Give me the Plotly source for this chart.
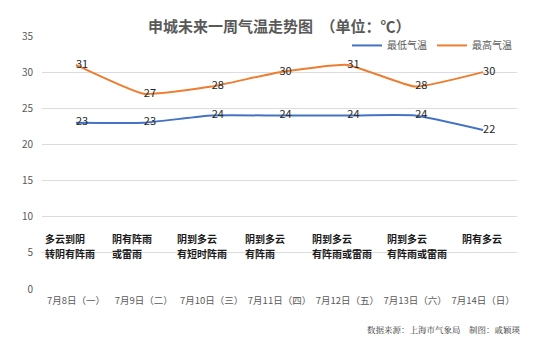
import plotly.graph_objects as go

# Seven-day forecast for Shanghai
days = ["7月8日（一）", "7月9日（二）", "7月10日（三）", "7月11日（四）",
        "7月12日（五）", "7月13日（六）", "7月14日（日）"]
low_temp = [23, 23, 24, 24, 24, 24, 22]
high_temp = [31, 27, 28, 30, 31, 28, 30]
weather_line1 = ["多云到阴", "阴有阵雨", "阴到多云", "阴到多云", "阴到多云", "阴到多云", "阴有多云"]
weather_line2 = ["转阴有阵雨", "或雷雨", "有短时阵雨", "有阵雨", "有阵雨或雷雨", "有阵雨或雷雨", ""]
y_ticks = [0, 5, 10, 15, 20, 25, 30, 35]

CJK = "Noto Sans CJK SC"
x = list(range(len(days)))

fig = go.Figure()
fig.add_trace(go.Scatter(
    x=x, y=low_temp, name="最低气温", mode="lines+text",
    line=dict(color="#4472C4", width=2, shape="spline", smoothing=0.4),
    text=[str(v) for v in low_temp], textposition="middle right",
    textfont=dict(family=CJK, size=11, color="#262626"),
))
fig.add_trace(go.Scatter(
    x=x, y=high_temp, name="最高气温", mode="lines+text",
    line=dict(color="#ED7D31", width=2, shape="spline", smoothing=0.4),
    text=[str(v) for v in high_temp], textposition="middle right",
    textfont=dict(family=CJK, size=11, color="#262626"),
))

# Weather descriptions under each day, two lines, left-aligned within the category
text_x = [-0.47, 0.52, 1.47, 2.47, 3.47, 4.57, 5.68]
for tx, l1, l2 in zip(text_x, weather_line1, weather_line2):
    for yy, line in ((7.0, l1), (4.98, l2)):
        if not line:
            continue
        fig.add_annotation(
            x=tx, y=yy, xref="x", yref="y", text="<b>" + line + "</b>",
            showarrow=False, xanchor="left", yanchor="middle", align="left",
            borderpad=0,
            font=dict(family=CJK, size=10, color="#1a1a1a"),
        )

fig.add_annotation(
    x=0.5, y=1.0, xref="paper", yref="paper", yshift=11,
    text="<b>申城未来一周气温走势图　（单位：℃）</b>", showarrow=False,
    xanchor="center", yanchor="middle",
    font=dict(family=CJK, size=15, color="#595959"),
)
fig.add_annotation(
    x=(523 - 42) / 475, y=-(329 - 289) / 253, xref="paper", yref="paper",
    showarrow=False, text="数据来源：上海市气象局　制图：戚颖瑛",
    font=dict(family="Noto Serif CJK SC, " + CJK, size=8.5, color="#333333"),
    xanchor="right", yanchor="middle",
)

fig.update_layout(
    width=550, height=341,
    margin=dict(l=42, r=33, t=36, b=52),
    paper_bgcolor="white", plot_bgcolor="white",
    showlegend=True,
    legend=dict(orientation="h", x=1.0, xanchor="right", y=1.02, yanchor="top",
                font=dict(family=CJK, size=10, color="#595959"),
                bgcolor="rgba(0,0,0,0)", itemwidth=30, tracegroupgap=0),
    xaxis=dict(range=[-0.5, 6.5], tickvals=x, ticktext=days, showgrid=False,
               zeroline=False, showline=False, ticks="", ticklabelstandoff=4,
               tickfont=dict(family=CJK, size=9.5, color="#595959")),
    yaxis=dict(range=[0, 35], tickvals=y_ticks, showgrid=True, gridcolor="#dcdcdc",
               gridwidth=1, zeroline=False, showline=False, ticks="",
               ticklabelstandoff=8,
               tickfont=dict(family=CJK, size=10, color="#595959")),
)

fig.write_html("out.html")
